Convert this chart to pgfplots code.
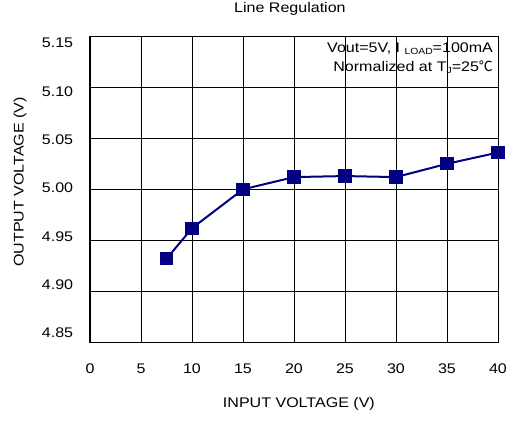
\documentclass[border=0pt]{standalone}
\usepackage{fontspec}
\setmainfont[FakeStretch=1.15]{Liberation Sans}
\newfontfamily\cjk{Noto Sans CJK SC}
\usepackage{pgfplots}
\pgfplotsset{compat=1.18}

\definecolor{navyc}{RGB}{0,0,128}

\begin{document}
\begin{tikzpicture}
\fontsize{14}{16}\selectfont
\begin{axis}[
    name=ax,
    scale only axis,
    width=408bp,
    height=306.7bp,
    xmin=0, xmax=40,
    ymin=4.85, ymax=5.15,
    xtick={0,5,...,40},
    ytick={4.85,4.90,4.95,5.00,5.05,5.10,5.15},
    yticklabel style={/pgf/number format/fixed,
        /pgf/number format/precision=2,
        /pgf/number format/fixed zerofill},
    /pgf/number format/assume math mode=true,
    tick label style={font=\fontsize{14}{16}\selectfont},
    major tick length=0pt,
    xticklabel style={yshift=-16bp},
    yticklabel style={xshift=-12bp, yshift={9.7bp-2.8bp*\ticknum}},
    grid=major,
    major grid style={black, line width=0.7bp},
    axis line style={black, line width=1bp},
    xlabel={INPUT VOLTAGE (V)},
    xlabel style={at={(axis description cs:0.512,-0.2)}, anchor=center,
        font=\fontsize{14}{16}\selectfont},
    ylabel={OUTPUT VOLTAGE (V)},
    ylabel style={at={(axis description cs:-0.1716,0.524)}, anchor=center,
        font=\fontsize{14}{16}\selectfont},
    clip=false,
]
\addplot[navyc, line width=2bp, mark=square*, mark size=5.6bp,
    mark options={solid, fill=navyc, draw=navyc}]
coordinates {
    (7.5,4.932) (10,4.962) (15,5.000) (20,5.012)
    (25,5.013) (30,5.012) (35,5.025) (40,5.036)
};
\node[anchor=center, inner sep=0pt] at (rel axis cs:0.49,1.088) {Line Regulation};
\node[anchor=north east, align=right, inner sep=0pt,
    font=\fontsize{14}{19}\selectfont]
    at (rel axis cs:0.988,0.98)
    {Vout=5V, I {\fontsize{9}{10}\selectfont\raisebox{-2bp}{LOAD}}=100mA\\
     Normalized at T{\fontsize{9}{10}\selectfont\raisebox{-2bp}{J}}=25{\cjk ℃}};
\end{axis}
\pgfresetboundingbox
\path[use as bounding box] (ax.south west) ++(-90bp,-80.3bp) rectangle ++(516bp,423bp);
\end{tikzpicture}
\end{document}
